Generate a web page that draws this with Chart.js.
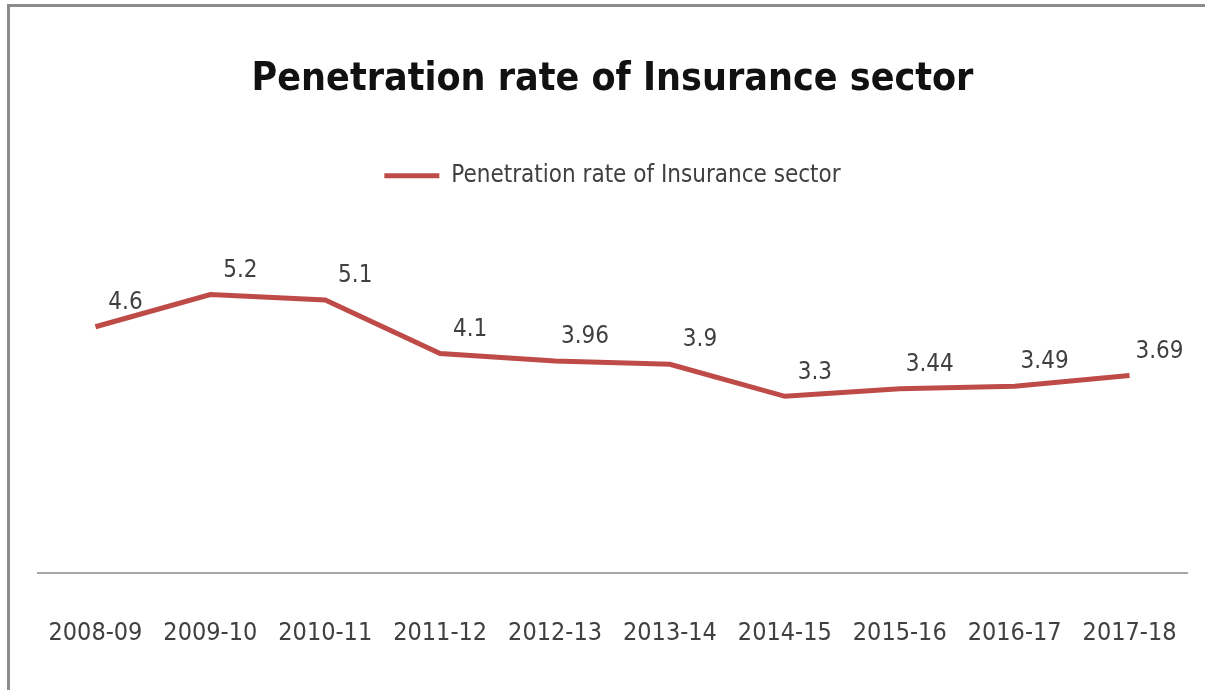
<!DOCTYPE html>
<html>
<head>
<meta charset="utf-8">
<script src="https://cdn.jsdelivr.net/npm/chart.js@4.4.0/dist/chart.umd.min.js"></script>
<style>
  html, body { margin: 0; padding: 0; background: #fff; }
  #wrap { position: relative; width: 1205px; height: 690px; }
  #frame {
    position: absolute; left: 7px; top: 4px; width: 1198px; height: 686px;
    border-top: 3px solid #8c8c8c; border-left: 3px solid #8c8c8c;
    box-sizing: border-box; pointer-events: none;
  }
</style>
</head>
<body>
<div id="wrap">
  <canvas id="chart" width="1205" height="690"></canvas>
  <div id="frame"></div>
</div>
<script>
// Dados
const years = ["2008-09", "2009-10", "2010-11", "2011-12", "2012-13",
  "2013-14", "2014-15", "2015-16", "2016-17", "2017-18"];
const penetration = [4.6, 5.2, 5.1, 4.1, 3.96, 3.9, 3.3, 3.44, 3.49, 3.69];
const seriesName = "Penetration rate of Insurance sector";

const FONT = "'DejaVu Sans Condensed', 'Liberation Sans Narrow', sans-serif";

// rótulos de valor acima de cada ponto
const valueLabels = {
  id: "valueLabels",
  afterDatasetsDraw(chart) {
    const ctx = chart.ctx;
    const meta = chart.getDatasetMeta(0);
    ctx.save();
    ctx.font = "24px " + FONT;
    ctx.fillStyle = "#404040";
    ctx.textAlign = "center";
    ctx.textBaseline = "middle";
    meta.data.forEach((pt, i) => {
      ctx.fillText(String(penetration[i]), pt.x + 30, pt.y - 24);
    });
    ctx.restore();
  },
};

// espaço extra por baixo da legenda
const legendGap = {
  id: "legendGap",
  beforeInit(chart) {
    const fit = chart.legend.fit;
    chart.legend.fit = function () {
      fit.bind(chart.legend)();
      this.height += 54;
    };
  },
};

new Chart(document.getElementById("chart"), {
  type: "line",
  data: {
    labels: years,
    datasets: [
      {
        label: seriesName,
        data: penetration,
        borderColor: "#be4b48",
        backgroundColor: "#be4b48",
        borderWidth: 5,
        pointRadius: 0,
        tension: 0,
      },
    ],
  },
  options: {
    responsive: false,
    animation: false,
    layout: { padding: { left: 38, right: 18, top: 0, bottom: -3 } },
    plugins: {
      title: {
        display: true,
        text: "Penetration rate of Insurance sector",
        color: "#111",
        font: { family: FONT, size: 39, weight: "bold" },
        padding: { top: 56, bottom: 51 },
      },
      legend: {
        position: "top",
        labels: {
          usePointStyle: true,
          pointStyle: "line",
          pointStyleWidth: 55,
          color: "#404040",
          font: { family: FONT, size: 24 },
          padding: 10,
        },
      },
      tooltip: { enabled: false },
    },
    scales: {
      x: {
        offset: true,
        grid: { display: false, drawTicks: false },
        border: { display: true, color: "#a6a6a6", width: 2 },
        ticks: {
          color: "#404040",
          font: { family: FONT, size: 25 },
          padding: 45,
          maxRotation: 0,
          autoSkip: false,
        },
        afterFit(scale) {
          scale.paddingLeft = 0;
          scale.paddingRight = 0;
        },
      },
      y: {
        display: false,
        min: 0,
        max: 6,
      },
    },
  },
  plugins: [valueLabels, legendGap],
});
</script>
</body>
</html>
